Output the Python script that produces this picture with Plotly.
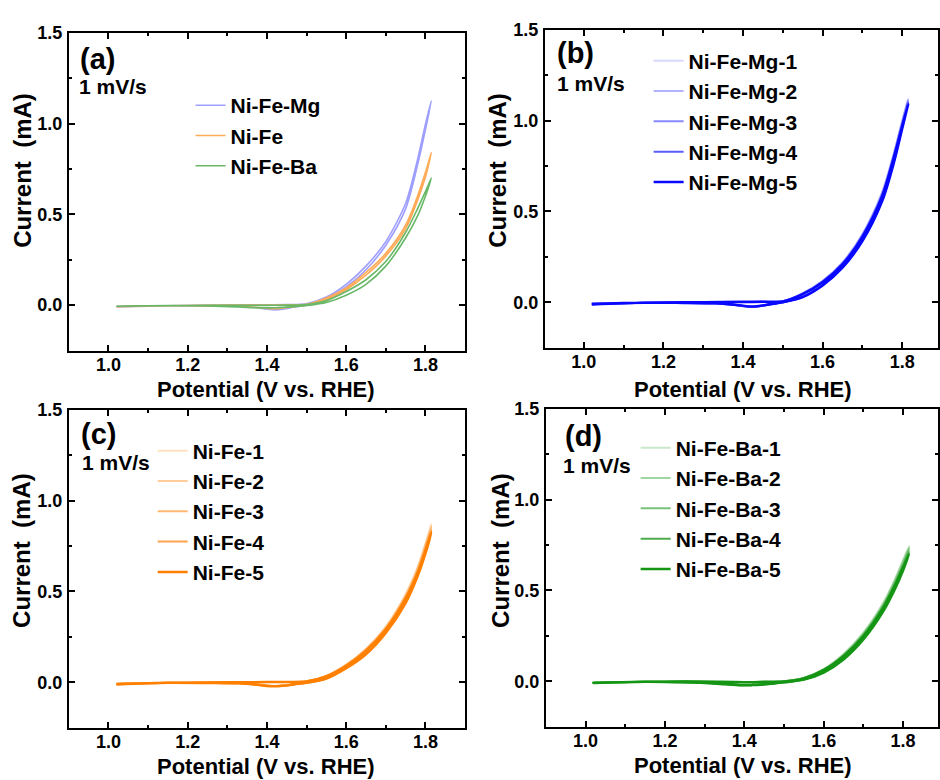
import plotly.graph_objects as go

# ---------------- data ----------------
V_FWD = [1.02, 1.10, 1.20, 1.30, 1.40, 1.45, 1.50, 1.55, 1.60, 1.65, 1.70, 1.75, 1.78, 1.80, 1.815]
V_REV = [1.815, 1.80, 1.78, 1.75, 1.70, 1.65, 1.60, 1.55, 1.50, 1.47, 1.44, 1.42, 1.40, 1.37, 1.33, 1.25, 1.15, 1.02]

# panel (a)
A_NAMES = ["Ni-Fe-Mg", "Ni-Fe", "Ni-Fe-Ba"]
a_mg_fwd = [-0.008, -0.004, -0.002, 0.000, 0.002, 0.003, 0.008, 0.045, 0.115, 0.215, 0.350, 0.560, 0.800, 0.995, 1.125]
a_mg_rev = [1.125, 0.965, 0.770, 0.530, 0.330, 0.195, 0.100, 0.035, 0.000, -0.010, -0.022, -0.026, -0.022, -0.013, -0.007, -0.004, -0.003, -0.010]
a_fe_fwd = [-0.008, -0.004, -0.002, 0.000, 0.001, 0.002, 0.005, 0.040, 0.095, 0.180, 0.285, 0.440, 0.600, 0.730, 0.840]
a_fe_rev = [0.840, 0.705, 0.575, 0.420, 0.270, 0.165, 0.085, 0.030, 0.000, -0.008, -0.016, -0.020, -0.018, -0.012, -0.006, -0.004, -0.003, -0.008]
a_ba_fwd = [-0.006, -0.003, -0.002, -0.001, -0.001, 0.000, 0.003, 0.025, 0.075, 0.140, 0.240, 0.400, 0.530, 0.625, 0.700]
a_ba_rev = [0.700, 0.600, 0.490, 0.370, 0.215, 0.115, 0.055, 0.015, -0.002, -0.008, -0.012, -0.014, -0.015, -0.014, -0.010, -0.005, -0.003, -0.006]

# panel (b)
B_NAMES = ["Ni-Fe-Mg-1", "Ni-Fe-Mg-2", "Ni-Fe-Mg-3", "Ni-Fe-Mg-4", "Ni-Fe-Mg-5"]
b_fwd = [
    [-0.008, -0.004, -0.002, 0.000, 0.002, 0.003, 0.006, 0.050, 0.118, 0.220, 0.375, 0.610, 0.830, 1.000, 1.120],
    [-0.008, -0.004, -0.002, 0.000, 0.002, 0.003, 0.006, 0.049, 0.116, 0.218, 0.372, 0.605, 0.825, 0.995, 1.115],
    [-0.009, -0.004, -0.002, 0.000, 0.002, 0.003, 0.005, 0.048, 0.115, 0.215, 0.370, 0.600, 0.820, 0.990, 1.110],
    [-0.009, -0.004, -0.002, 0.000, 0.002, 0.003, 0.005, 0.046, 0.112, 0.212, 0.365, 0.592, 0.812, 0.980, 1.100],
    [-0.010, -0.005, -0.002, 0.000, 0.001, 0.002, 0.004, 0.044, 0.110, 0.208, 0.360, 0.585, 0.805, 0.970, 1.090],
]
b_rev = [
    [1.120, 0.980, 0.800, 0.580, 0.350, 0.198, 0.098, 0.032, 0.000, -0.010, -0.022, -0.026, -0.022, -0.013, -0.007, -0.004, -0.003, -0.010],
    [1.115, 0.975, 0.795, 0.575, 0.348, 0.196, 0.096, 0.031, 0.000, -0.010, -0.022, -0.026, -0.022, -0.013, -0.007, -0.004, -0.003, -0.010],
    [1.110, 0.970, 0.790, 0.570, 0.345, 0.195, 0.095, 0.030, 0.000, -0.010, -0.022, -0.025, -0.021, -0.012, -0.007, -0.004, -0.003, -0.010],
    [1.100, 0.962, 0.782, 0.563, 0.340, 0.192, 0.093, 0.029, -0.001, -0.011, -0.022, -0.025, -0.021, -0.012, -0.006, -0.004, -0.003, -0.011],
    [1.090, 0.955, 0.775, 0.558, 0.336, 0.190, 0.092, 0.028, -0.001, -0.011, -0.021, -0.024, -0.020, -0.012, -0.006, -0.004, -0.003, -0.012],
]

# panel (c)
C_NAMES = ["Ni-Fe-1", "Ni-Fe-2", "Ni-Fe-3", "Ni-Fe-4", "Ni-Fe-5"]
c_fwd = [
    [-0.008, -0.004, -0.002, 0.000, 0.001, 0.002, 0.005, 0.036, 0.097, 0.184, 0.306, 0.485, 0.632, 0.765, 0.870],
    [-0.008, -0.004, -0.002, 0.000, 0.001, 0.002, 0.005, 0.035, 0.096, 0.182, 0.303, 0.480, 0.627, 0.758, 0.862],
    [-0.009, -0.004, -0.002, 0.000, 0.001, 0.002, 0.005, 0.035, 0.095, 0.180, 0.300, 0.475, 0.620, 0.750, 0.852],
    [-0.009, -0.004, -0.002, 0.000, 0.001, 0.002, 0.004, 0.033, 0.092, 0.176, 0.294, 0.466, 0.608, 0.735, 0.835],
    [-0.010, -0.005, -0.002, 0.000, 0.001, 0.002, 0.004, 0.032, 0.090, 0.173, 0.290, 0.460, 0.600, 0.725, 0.825],
]
c_rev = [
    [0.870, 0.745, 0.612, 0.460, 0.286, 0.164, 0.082, 0.023, -0.002, -0.010, -0.018, -0.021, -0.019, -0.012, -0.006, -0.004, -0.003, -0.010],
    [0.862, 0.738, 0.606, 0.455, 0.283, 0.162, 0.081, 0.022, -0.002, -0.010, -0.018, -0.021, -0.019, -0.012, -0.006, -0.004, -0.003, -0.010],
    [0.852, 0.730, 0.600, 0.450, 0.280, 0.160, 0.080, 0.022, -0.002, -0.010, -0.018, -0.020, -0.018, -0.012, -0.006, -0.004, -0.003, -0.010],
    [0.835, 0.716, 0.589, 0.441, 0.274, 0.156, 0.078, 0.021, -0.003, -0.011, -0.019, -0.021, -0.019, -0.012, -0.006, -0.004, -0.003, -0.011],
    [0.825, 0.708, 0.582, 0.436, 0.271, 0.154, 0.077, 0.020, -0.003, -0.011, -0.019, -0.022, -0.020, -0.013, -0.006, -0.004, -0.003, -0.012],
]

# panel (d)
D_NAMES = ["Ni-Fe-Ba-1", "Ni-Fe-Ba-2", "Ni-Fe-Ba-3", "Ni-Fe-Ba-4", "Ni-Fe-Ba-5"]
d_fwd = [
    [-0.007, -0.004, -0.002, -0.002, -0.004, -0.003, 0.000, 0.019, 0.067, 0.150, 0.268, 0.432, 0.565, 0.668, 0.745],
    [-0.007, -0.004, -0.002, -0.002, -0.004, -0.003, 0.000, 0.018, 0.066, 0.148, 0.265, 0.428, 0.560, 0.662, 0.738],
    [-0.008, -0.004, -0.002, -0.002, -0.004, -0.003, 0.000, 0.018, 0.065, 0.145, 0.260, 0.420, 0.550, 0.650, 0.730],
    [-0.008, -0.004, -0.002, -0.002, -0.005, -0.003, -0.001, 0.017, 0.063, 0.141, 0.254, 0.412, 0.540, 0.638, 0.715],
    [-0.009, -0.005, -0.002, -0.002, -0.005, -0.004, -0.001, 0.016, 0.061, 0.138, 0.248, 0.405, 0.530, 0.626, 0.700],
]
d_rev = [
    [0.745, 0.648, 0.542, 0.410, 0.247, 0.130, 0.053, 0.011, -0.005, -0.012, -0.018, -0.020, -0.021, -0.018, -0.012, -0.006, -0.003, -0.008],
    [0.738, 0.642, 0.537, 0.406, 0.244, 0.128, 0.052, 0.011, -0.005, -0.012, -0.018, -0.020, -0.021, -0.018, -0.012, -0.006, -0.003, -0.008],
    [0.730, 0.635, 0.530, 0.400, 0.240, 0.125, 0.050, 0.010, -0.005, -0.012, -0.018, -0.020, -0.021, -0.018, -0.012, -0.006, -0.003, -0.008],
    [0.715, 0.622, 0.520, 0.392, 0.235, 0.122, 0.049, 0.009, -0.006, -0.013, -0.019, -0.021, -0.022, -0.019, -0.012, -0.006, -0.003, -0.009],
    [0.700, 0.610, 0.510, 0.385, 0.230, 0.120, 0.048, 0.009, -0.006, -0.013, -0.019, -0.021, -0.022, -0.019, -0.013, -0.006, -0.003, -0.009],
]

PANEL_LABELS = ["(a)", "(b)", "(c)", "(d)"]
RATE_LABEL = "1 mV/s"
X_TITLE = "Potential (V vs. RHE)"
Y_TITLE = "Current  (mA)"

# ---------------- styles ----------------
A_COLORS = ["#9e9eff", "#ffab58", "#68b868"]
B_COLORS = ["#d8d8ff", "#b2b2ff", "#8a8aff", "#5c5cff", "#0808ff"]
C_COLORS = ["#ffe2c4", "#ffcd9c", "#ffb872", "#ffa34a", "#ff8000"]
D_COLORS = ["#c8e8c8", "#a0d6a0", "#78c278", "#4cac4c", "#149614"]
WIDTHS5 = [2, 2, 2, 2, 2.5]

FONT = "Liberation Sans, Arial, sans-serif"
W, H = 940, 780

fig = go.Figure()


def add_curve(xa, ya, fwd, rev, name, color, width, legend):
    fig.add_trace(go.Scatter(
        x=V_FWD + V_REV[1:], y=fwd + rev[1:], mode="lines", name=name,
        line=dict(color=color, width=width, shape="spline", smoothing=0.8),
        xaxis=xa, yaxis=ya, legend=legend, showlegend=True,
    ))


add_curve("x", "y", a_mg_fwd, a_mg_rev, A_NAMES[0], A_COLORS[0], 1.6, "legend")
add_curve("x", "y", a_fe_fwd, a_fe_rev, A_NAMES[1], A_COLORS[1], 1.6, "legend")
add_curve("x", "y", a_ba_fwd, a_ba_rev, A_NAMES[2], A_COLORS[2], 1.6, "legend")
for i in range(5):
    add_curve("x2", "y2", b_fwd[i], b_rev[i], B_NAMES[i], B_COLORS[i], WIDTHS5[i], "legend2")
for i in range(5):
    add_curve("x3", "y3", c_fwd[i], c_rev[i], C_NAMES[i], C_COLORS[i], WIDTHS5[i], "legend3")
for i in range(5):
    add_curve("x4", "y4", d_fwd[i], d_rev[i], D_NAMES[i], D_COLORS[i], WIDTHS5[i], "legend4")

# panel boxes in pixels: (left, top, right, bottom), x-value at left/right edges
BOXES = [
    (69, 23, 466, 345, 0.90, 1.90),
    (546, 20, 940, 342, 0.902, 1.890),
    (69, 405, 466, 727, 0.90, 1.90),
    (547, 404, 940, 726, 0.90, 1.888),
]

tickfont = dict(family=FONT, size=18, color="black", weight="bold")


def axis_common():
    return dict(showline=True, linecolor="black", linewidth=2, mirror="ticks",
                ticks="inside", ticklen=6, tickwidth=2, tickcolor="black",
                showgrid=False, zeroline=False, tickformat=".1f", tickfont=tickfont)


layout = dict(width=W, height=H, margin=dict(l=0, r=0, t=0, b=0),
              paper_bgcolor="white", plot_bgcolor="white", annotations=[])

for i, (l, t, r, b, x0, x1) in enumerate(BOXES):
    sfx = "" if i == 0 else str(i + 1)
    xa = axis_common()
    xa.update(domain=[l / W, r / W], range=[x0, x1], anchor="y" + sfx,
              tick0=1.0, dtick=0.2, ticklabelstandoff=-3,
              minor=dict(ticks="inside", ticklen=3, tickwidth=1.5, tickcolor="black", dtick=0.1, tick0=1.0))
    ya = axis_common()
    ya.update(domain=[1 - b / H, 1 - t / H], range=[-0.25, 1.5], anchor="x" + sfx,
              tick0=0, dtick=0.5, ticklabelstandoff=1,
              minor=dict(ticks="inside", ticklen=3, tickwidth=1.5, tickcolor="black", dtick=0.25, tick0=0))
    layout["xaxis" + sfx] = xa
    layout["yaxis" + sfx] = ya

# legends
LEG_POS = [(191, 76), (650, 31), (153, 426), (637, 423)]
for i, (lx, ly) in enumerate(LEG_POS):
    key = "legend" if i == 0 else "legend" + str(i + 1)
    layout[key] = dict(x=lx / W, y=1 - ly / H, xanchor="left", yanchor="top",
                       bgcolor="rgba(0,0,0,0)", borderwidth=0,
                       font=dict(family=FONT, size=21, color="black", weight="bold"))

# text annotations
LABEL_POS = [(78, 50), (556, 44), (79, 429), (564, 432)]
RATE_POS = [(77, 77), (556, 74), (80, 458), (562, 461)]
YT_POS = [(23, 162), (499, 162), (22, 547), (502, 547)]
XT_POS = [(267, 384), (745, 384), (267, 766), (745, 765)]

ann = []
for i in range(4):
    ann.append(dict(text=PANEL_LABELS[i], x=LABEL_POS[i][0] / W, y=1 - LABEL_POS[i][1] / H,
                    xref="paper", yref="paper", xanchor="left", yanchor="middle", showarrow=False,
                    font=dict(family=FONT, size=29, color="black", weight="bold")))
    ann.append(dict(text=RATE_LABEL, x=RATE_POS[i][0] / W, y=1 - RATE_POS[i][1] / H,
                    xref="paper", yref="paper", xanchor="left", yanchor="middle", showarrow=False,
                    font=dict(family=FONT, size=21, color="black", weight="bold")))
    ann.append(dict(text=Y_TITLE, x=YT_POS[i][0] / W, y=1 - YT_POS[i][1] / H, textangle=-90,
                    xref="paper", yref="paper", xanchor="center", yanchor="middle", showarrow=False,
                    font=dict(family=FONT, size=24, color="black", weight="bold")))
    ann.append(dict(text=X_TITLE, x=XT_POS[i][0] / W, y=1 - XT_POS[i][1] / H,
                    xref="paper", yref="paper", xanchor="center", yanchor="middle", showarrow=False,
                    font=dict(family=FONT, size=22, color="black", weight="bold")))
layout["annotations"] = ann

fig.update_layout(**layout)
fig.write_html("out.html")
